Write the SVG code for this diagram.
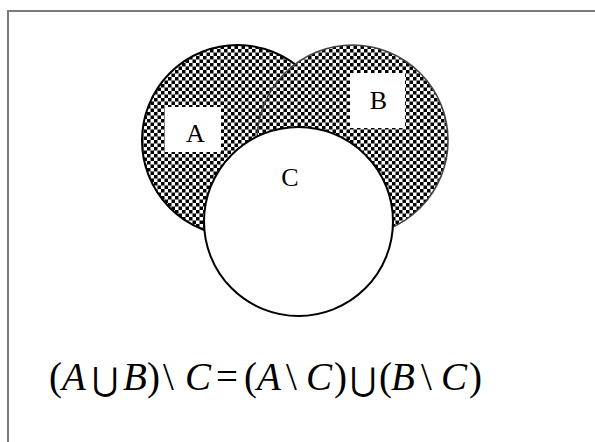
<svg xmlns="http://www.w3.org/2000/svg" width="595" height="442" viewBox="0 0 595 442">
  <defs>
    <pattern id="checker" patternUnits="userSpaceOnUse" width="7" height="7">
      <rect width="7" height="7" fill="#ffffff"/>
      <rect x="0" y="0" width="3.5" height="3.5" fill="#000000"/>
      <rect x="3.5" y="3.5" width="3.5" height="3.5" fill="#000000"/>
    </pattern>
    <style>
      .lbl { font-family: "Liberation Serif", "Times New Roman", serif; font-size: 26px; fill: #000; }
      .eq { font-family: "Liberation Serif", "Times New Roman", serif; font-size: 39px; fill: #000; }
      .it { font-style: italic; }
      .un { font-family: "DejaVu Serif", serif; font-size: 32px; }
      .box { fill: #ffffff; stroke: none; }
    </style>
  </defs>
  <rect x="0" y="0" width="595" height="442" fill="#ffffff"/>
  <rect x="8" y="11" width="700" height="600" fill="none" stroke="#7a7a7a" stroke-width="2"/>

  <g id="setA">
    <circle cx="237.5" cy="140.5" r="95.5" fill="url(#checker)" stroke="#000" stroke-width="2"/>
  </g>
  <g id="setB">
    <circle cx="352.5" cy="140.5" r="95.5" fill="url(#checker)" stroke="#444" stroke-width="1.6"/>
  </g>
  <g id="setC">
    <circle cx="298.5" cy="221.5" r="94.5" fill="#ffffff" stroke="#000" stroke-width="2"/>
    <text class="lbl" x="290" y="186" text-anchor="middle">C</text>
  </g>
  <g id="labelA">
    <rect class="box" x="165" y="107" width="56" height="45"/>
    <text class="lbl" x="195.5" y="142" text-anchor="middle">A</text>
  </g>
  <g id="labelB">
    <rect class="box" x="350" y="73" width="55" height="55"/>
    <text class="lbl" x="378.5" y="109" text-anchor="middle">B</text>
  </g>

  <g id="formula">
    <text class="eq" y="390"><tspan x="49">(</tspan><tspan class="it" x="62">A</tspan><tspan class="un" x="92">⋃</tspan><tspan class="it" x="123">B</tspan><tspan x="147">)</tspan><tspan x="163">\</tspan><tspan class="it" x="185">C</tspan><tspan x="216">=</tspan><tspan x="244">(</tspan><tspan class="it" x="257">A</tspan><tspan x="286">\</tspan><tspan class="it" x="306">C</tspan><tspan x="334">)</tspan><tspan class="un" x="350">⋃</tspan><tspan x="379">(</tspan><tspan class="it" x="391">B</tspan><tspan x="421">\</tspan><tspan class="it" x="441">C</tspan><tspan x="469">)</tspan></text>
  </g>
</svg>
